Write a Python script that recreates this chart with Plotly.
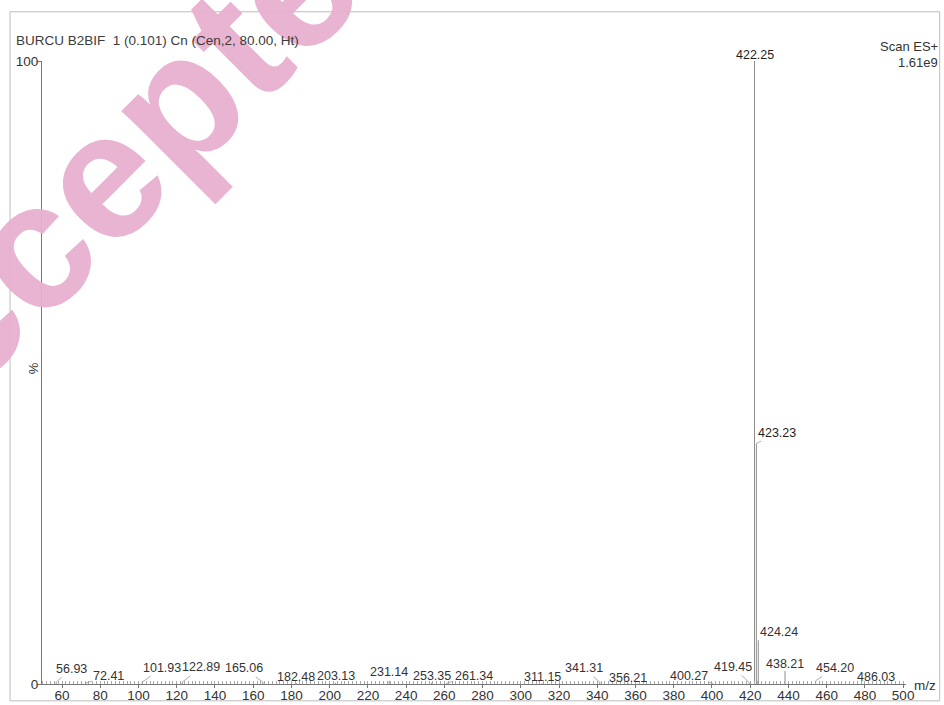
import plotly.graph_objects as go

# ---------------- data ----------------
mz = [56.93, 72.41, 101.93, 122.89, 165.06, 182.48, 203.13, 231.14, 253.35, 261.34,
      311.15, 341.31, 356.21, 400.27, 419.45, 422.25, 423.23, 424.24, 438.21, 454.20, 486.03]
intensity = [0.3, 0.15, 0.3, 0.3, 0.3, 0.15, 0.2, 0.5, 0.2, 0.15,
             0.1, 0.3, 0.1, 0.1, 0.2, 100.0, 38.6, 7.0, 2.1, 0.5, 0.05]
peak_labels = ["56.93", "72.41", "101.93", "122.89", "165.06", "182.48", "203.13", "231.14",
               "253.35", "261.34", "311.15", "341.31", "356.21", "400.27", "419.45", "422.25",
               "423.23", "424.24", "438.21", "454.20", "486.03"]
x_ticks = [60, 80, 100, 120, 140, 160, 180, 200, 220, 240, 260, 280, 300, 320, 340,
           360, 380, 400, 420, 440, 460, 480, 500]
y_ticks = [0, 100]
y_tick_text = ["0", "100"]
title_text = "BURCU B2BIF\u00a0\u00a01 (0.101) Cn (Cen,2, 80.00, Ht)"
scan_text = "Scan ES+"
scale_text = "1.61e9"

# ---------------- label placement (style only) ----------------
# (dx px, dy px, leader line)
label_offsets = [(15, -13.6, True), (23, -7, True), (20, -14.5, True), (19, -14.8, True),
                 (-19, -13.7, True), (0, -6, False), (0, -7, False), (0, -9, False),
                 (0, -7, False), (27, -7.5, True), (0, -6.5, False), (-16, -14, True),
                 (0, -5.7, False), (-24, -7.5, True), (-16, -16, True), (0, -6, False),
                 (21, -11, True), (21, -8, True), (0, -7, False), (19, -13, True),
                 (0, -6.5, False)]

FONT = "Liberation Sans, Arial, sans-serif"
TXT = "#333333"

# stick spectrum
xs, ys = [], []
for m, v in zip(mz, intensity):
    xs += [m, m, None]
    ys += [0, v, None]

fig = go.Figure()
fig.add_trace(go.Scatter(x=xs, y=ys, mode="lines",
                         line=dict(color="#8f8f8f", width=1),
                         hoverinfo="skip", showlegend=False))

annotations = []
# watermark
annotations.append(dict(text="Accepted", xref="paper", yref="paper", x=0.088, y=0.84,
                        showarrow=False, textangle=-45,
                        font=dict(family=FONT, size=180, color="#e8b0cf", weight="bold"),
                        xanchor="center", yanchor="middle", opacity=0.95))

for m, v, lab, (dx, dy, lead) in zip(mz, intensity, peak_labels, label_offsets):
    bold = lab in ("422.25", "423.23")
    f = dict(family=FONT, size=12.5, color="#1e1e1e" if bold else TXT)
    if lead:
        annotations.append(dict(x=m, y=v, xref="x", yref="y", text=lab, showarrow=True,
                                arrowhead=0, arrowwidth=0.8, arrowcolor="#999999",
                                ax=dx, ay=dy, standoff=0, font=f))
    else:
        annotations.append(dict(x=m, y=v, xref="x", yref="y", text=lab, showarrow=False,
                                xanchor="center", yanchor="middle", yshift=-dy, font=f))

annotations += [
    dict(text=title_text, xref="paper", yref="paper", x=-0.0324, y=1.0337,
         xanchor="left", yanchor="middle", showarrow=False,
         font=dict(family=FONT, size=13.5, color="#3c3c3c")),
    dict(text=scan_text, xref="paper", yref="paper", x=1.039, y=1.024,
         xanchor="right", yanchor="middle", showarrow=False,
         font=dict(family=FONT, size=13, color=TXT)),
    dict(text=scale_text, xref="paper", yref="paper", x=1.039, y=0.998,
         xanchor="right", yanchor="middle", showarrow=False,
         font=dict(family=FONT, size=13, color=TXT)),
    dict(text="%", xref="paper", yref="paper", x=0, y=0.506, xanchor="right",
         yanchor="middle", xshift=1, showarrow=False, textangle=-90,
         font=dict(family=FONT, size=13, color=TXT)),
    dict(text="m/z", xref="paper", yref="paper", x=1.0, y=0, xanchor="left",
         yanchor="middle", xshift=6, yshift=-1, showarrow=False,
         font=dict(family=FONT, size=13.5, color=TXT)),
]

fig.update_layout(
    width=944, height=705,
    margin=dict(l=42, r=38, t=61, b=21, autoexpand=False),
    paper_bgcolor="white", plot_bgcolor="white",
    showlegend=False,
    annotations=annotations,
    shapes=[dict(type="rect", xref="paper", yref="paper", x0=-0.037, x1=1.039,
                 y0=-0.027, y1=1.079, line=dict(color="#bdbdbd", width=1))],
    xaxis=dict(range=[49.5, 501.5], tickmode="array", tickvals=x_ticks,
               ticks="outside", ticklen=3, tickcolor="#777", showline=True,
               linecolor="#777", linewidth=1, showgrid=False, zeroline=False,
               ticklabelstandoff=-4,
               tickfont=dict(family=FONT, size=13.5, color=TXT),
               minor=dict(tickmode="linear", tick0=0, dtick=2, ticks="inside",
                          ticklen=3, tickcolor="#aaa", showgrid=False)),
    yaxis=dict(range=[0, 100], tickmode="array", tickvals=y_ticks, ticktext=y_tick_text,
               ticks="outside", ticklen=4, tickcolor="#777", showline=True,
               linecolor="#777", linewidth=1, showgrid=False, zeroline=False,
               ticklabelstandoff=-4,
               tickfont=dict(family=FONT, size=13.5, color=TXT)),
)

fig.write_html("out.html", config={"displayModeBar": False},
               post_script="document.body.style.margin='0';")
